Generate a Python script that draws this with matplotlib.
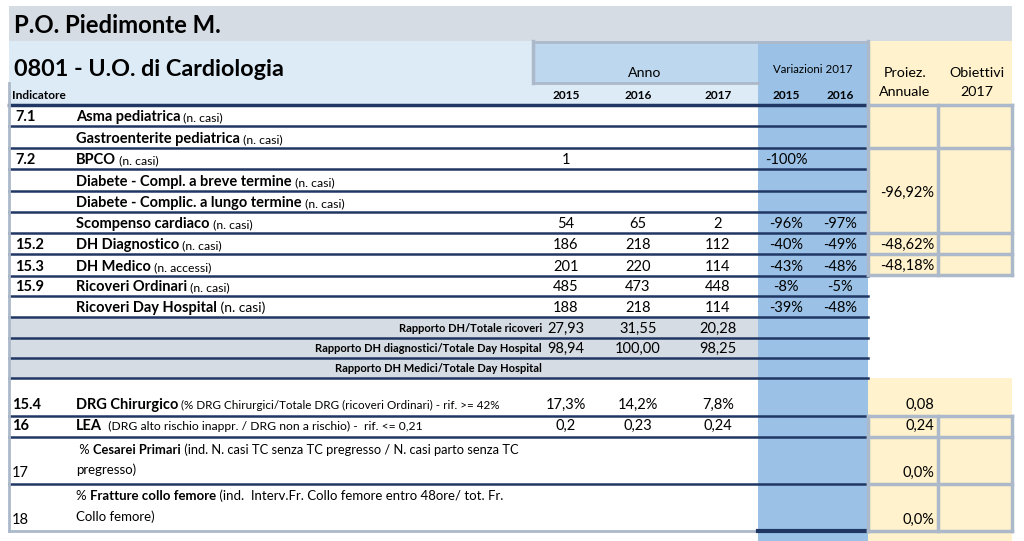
import matplotlib
matplotlib.use("Agg")
import matplotlib.pyplot as plt
from matplotlib.patches import Rectangle

plt.rcParams['font.family'] = ['Lato', 'DejaVu Sans']

hospital = "P.O. Piedimonte M."
unit = "0801 - U.O. di Cardiologia"
years = ["2015", "2016", "2017"]
var_years = ["2015", "2016"]

codes = ["7.1", "", "7.2", "", "", "", "15.2", "15.3", "15.9", ""]
names = ["Asma pediatrica", "Gastroenterite pediatrica", "BPCO",
         "Diabete - Compl. a breve termine", "Diabete - Complic. a lungo termine",
         "Scompenso cardiaco", "DH Diagnostico", "DH Medico",
         "Ricoveri Ordinari", "Ricoveri Day Hospital"]
units = ["(n. casi)", "(n. casi)", "(n. casi)", "(n. casi)", "(n. casi)",
         "(n. casi)", "(n. casi)", "(n. accessi)", "(n. casi)", "(n. casi)"]
val_2015 = ["", "", "1", "", "", "54", "186", "201", "485", "188"]
val_2016 = ["", "", "", "", "", "65", "218", "220", "473", "218"]
val_2017 = ["", "", "", "", "", "2", "112", "114", "448", "114"]
var_2015 = ["", "", "-100%", "", "", "-96%", "-40%", "-43%", "-8%", "-39%"]
var_2016 = ["", "", "", "", "", "-97%", "-49%", "-48%", "-5%", "-48%"]
proiez_top = ["", "-96,92%", "-48,62%", "-48,18%"]   # merged cells: rows 0-1, 2-5, 6, 7

ratio_names = ["Rapporto DH/Totale ricoveri",
               "Rapporto DH diagnostici/Totale Day Hospital",
               "Rapporto DH Medici/Totale Day Hospital"]
ratio_2015 = ["27,93", "98,94", ""]
ratio_2016 = ["31,55", "100,00", ""]
ratio_2017 = ["20,28", "98,25", ""]

low_codes = ["15.4", "16", "17", "18"]
low_code_weight = ["bold", "bold", "normal", "normal"]
low_parts = [
    [("DRG Chirurgico", "bold", 10.5), (" (% DRG Chirurgici/Totale DRG (ricoveri Ordinari) - rif. >= 42%", "normal", 8.4)],
    [("LEA", "bold", 10.5), ("  (DRG alto rischio inappr. / DRG non a rischio) -  rif. <= 0,21", "normal", 8.7)],
    [(" % ", "normal", 9.3), ("Cesarei Primari", "bold", 9.3), (" (ind. N. casi TC senza TC pregresso / N. casi parto senza TC", "normal", 9.3)],
    [("% ", "normal", 9.5), ("Fratture collo femore", "bold", 9.5), (" (ind.  Interv.Fr. Collo femore entro 48ore/ tot. Fr.", "normal", 9.5)],
]
low_second = ["", "", "pregresso)", "Collo femore)"]
low_2015 = ["17,3%", "0,2", "", ""]
low_2016 = ["14,2%", "0,23", "", ""]
low_2017 = ["7,8%", "0,24", "", ""]
low_proiez = ["0,08", "0,24", "0,0%", "0,0%"]

# ---- layout (pixels) ----
NAVY = "#203764"
GRAYB = "#acb9ca"
GRAYF = "#d6dce4"
LBLUE = "#ddebf7"
ABLUE = "#bdd7ee"
VBLUE = "#9bc2e6"
BEIGE = "#fff2cc"

top_edges = [105, 126, 148, 169, 191, 212, 233, 254, 276, 296, 317]
ratio_edges = [317, 338, 358, 378]
low_edges = [378, 416, 437, 484, 531]
col_x = [566, 638, 718]
var_x = [786, 840]
X0, XA, XV, XB, XS, XR = 9, 533, 758, 868, 938, 1012

fig = plt.figure(figsize=(10.24, 5.41), dpi=100)
ax = fig.add_axes([0, 0, 1, 1])
ax.set_xlim(0, 1024)
ax.set_ylim(541, 0)
ax.axis("off")
fig.canvas.draw()
renderer = fig.canvas.get_renderer()


def rect(x0, y0, x1, y1, color, z=0):
    ax.add_patch(Rectangle((x0, y0), x1 - x0, y1 - y0, facecolor=color, edgecolor="none", zorder=z))


def runs(x, y, parts, color="black"):
    for txt, weight, size in parts:
        t = ax.text(x, y, txt, fontweight=weight, fontsize=size, va="baseline", ha="left", color=color, zorder=5)
        x = t.get_window_extent(renderer).x1


# backgrounds
rect(X0, 6, XR, 41, GRAYF)
rect(X0, 41, XA, 83, LBLUE)
rect(XA, 41, XV, 83, ABLUE)
rect(X0, 83, XV, 105, LBLUE)
rect(XV, 41, XB, 541, VBLUE)
rect(XB, 41, XR, 275, BEIGE)
rect(XB, 378, XR, 541, BEIGE)
rect(X0, ratio_edges[0], XV, ratio_edges[-1], GRAYF)

# header frame (gray)
ax.plot([XA, XA], [41, 83], color=GRAYB, lw=2.5, zorder=3)
ax.plot([XA, XB], [42, 42], color=GRAYB, lw=2, zorder=3)
ax.plot([XA, XV], [83, 83], color=GRAYB, lw=2, zorder=3)

ax.text(14, 33, hospital, fontsize=17.2, fontweight="bold", va="baseline", zorder=5)
ax.text(14, 76, unit, fontsize=16.8, fontweight="bold", va="baseline", zorder=5)
ax.text(12, 99, "Indicatore", fontsize=8.6, fontweight="bold", va="baseline", zorder=5)
ax.text(645, 77, "Anno", fontsize=10.2, ha="center", va="baseline", zorder=5)
ax.text(813, 73, "Variazioni 2017", fontsize=8.3, ha="center", va="baseline", zorder=5)
for x, y in zip(col_x, years):
    ax.text(x, 99, y, fontsize=8.6, fontweight="bold", ha="center", va="baseline", zorder=5)
for x, y in zip(var_x, var_years):
    ax.text(x, 99, y, fontsize=8.6, fontweight="bold", ha="center", va="baseline", zorder=5)
ax.text(905, 77, "Proiez.", fontsize=10.3, ha="center", va="baseline", zorder=5)
ax.text(905, 96, "Annuale", fontsize=10.3, ha="center", va="baseline", zorder=5)
ax.text(977, 77, "Obiettivi", fontsize=10.3, ha="center", va="baseline", zorder=5)
ax.text(977, 96, "2017", fontsize=10.3, ha="center", va="baseline", zorder=5)

# header underline
ax.plot([X0, XB], [105, 105], color=NAVY, lw=2.5, zorder=4)

# top indicator rows
for i in range(len(names)):
    y0, y1 = top_edges[i], top_edges[i + 1]
    base = y1 - 5
    ax.text(15, base, codes[i], fontsize=10.5, fontweight="bold", va="baseline", zorder=5)
    usize = 10 if i == len(names) - 1 else 8.8
    runs(76, base, [(names[i], "bold", 10.5), (" " + units[i], "normal", usize)])
    for x, v in zip(col_x, [val_2015[i], val_2016[i], val_2017[i]]):
        ax.text(x, base, v, fontsize=10.5, ha="center", va="baseline", zorder=5)
    for x, v in zip(var_x, [var_2015[i], var_2016[i]]):
        ax.text(x, base, v, fontsize=10.5, ha="center", va="baseline", zorder=5)
    ax.plot([X0, XB], [y1, y1], color=NAVY, lw=1.8, zorder=4)

# ratio rows
for i in range(len(ratio_names)):
    y0, y1 = ratio_edges[i], ratio_edges[i + 1]
    base = y1 - 5
    ax.text(542, base - 1, ratio_names[i], fontsize=8, fontweight="bold", ha="right", va="baseline", zorder=5)
    for x, v in zip(col_x, [ratio_2015[i], ratio_2016[i], ratio_2017[i]]):
        ax.text(x, base, v, fontsize=10.5, ha="center", va="baseline", zorder=5)
    ax.plot([X0, XB], [y1, y1], color=NAVY, lw=1.8, zorder=4)

# lower indicator rows
low_base = [409, 430, 454, 500]
low_base2 = [None, None, 474, 521]
code_base = [409, 430, 477, 524]
proiez_base = [409, 430, 477, 524]
for i in range(len(low_codes)):
    y0, y1 = low_edges[i], low_edges[i + 1]
    ax.text(12, code_base[i], low_codes[i], fontsize=10.5, fontweight=low_code_weight[i], va="baseline", zorder=5)
    runs(76, low_base[i], low_parts[i])
    if low_second[i]:
        ax.text(76, low_base2[i], low_second[i], fontsize=9.5, va="baseline", zorder=5)
    for x, v in zip(col_x, [low_2015[i], low_2016[i], low_2017[i]]):
        ax.text(x, low_base[i], v, fontsize=10.5, ha="center", va="baseline", zorder=5)
    ax.text(934, proiez_base[i], low_proiez[i], fontsize=10.5, ha="right", va="baseline", zorder=5)
    if i < len(low_codes) - 1:
        ax.plot([X0, XB], [y1, y1], color=NAVY, lw=1.8, zorder=4)
    else:
        ax.plot([X0, XV], [y1, y1], color=GRAYB, lw=2, zorder=4)
        ax.plot([XV, XB], [y1, y1], color=NAVY, lw=3, zorder=4)

# left gray border
ax.plot([X0, X0], [83, 531], color=GRAYB, lw=2, zorder=4)

# beige grid, upper block
merge_edges = [105, 148, 233, 254, 275]
for y in merge_edges:
    ax.plot([XB, XR], [y, y], color=GRAYB, lw=2.5, zorder=4)
for x in [XB, XS, XR]:
    ax.plot([x, x], [105, 275], color=GRAYB, lw=2.5, zorder=4)
ax.plot([XB, XB], [41, 105], color=GRAYB, lw=2.5, zorder=4)
proiez_y = [None, 197, 249, 270]
for v, y in zip(proiez_top, proiez_y):
    if v:
        ax.text(934, y, v, fontsize=10.5, ha="right", va="baseline", zorder=5)

# beige grid, lower block
for y in low_edges[1:]:
    ax.plot([XB, XR], [y, y], color=GRAYB, lw=2.5, zorder=4)
for x in [XB, XS, XR]:
    ax.plot([x, x], [416, 531], color=GRAYB, lw=2.5, zorder=4)

fig.savefig("out.png", dpi=100)
